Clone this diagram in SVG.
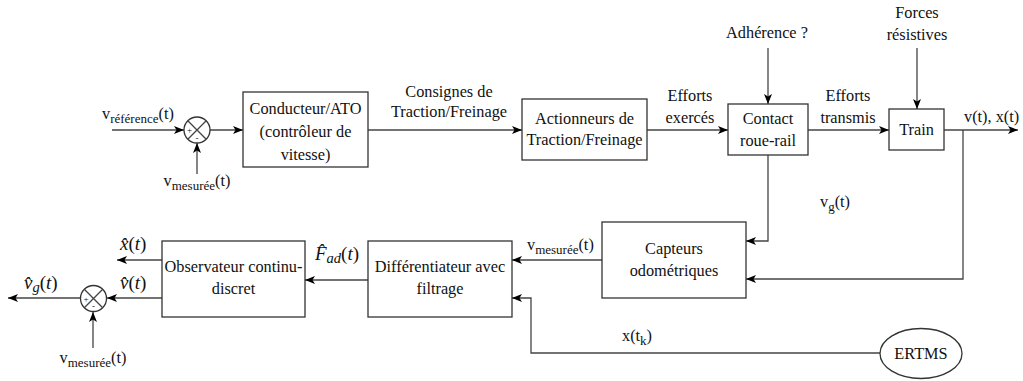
<svg xmlns="http://www.w3.org/2000/svg" width="1023" height="381" viewBox="0 0 1023 381" font-family="Liberation Serif, Times New Roman, DejaVu Serif, serif">
<style>
text{font-size:16.3px;fill:#111}
.c{text-anchor:middle}
.sub{font-size:13px}
.m{font-style:italic;font-size:19px}
.ms{font-style:italic;font-size:14.5px}
.up{font-style:normal}
.sg{font-size:9px}
.box{fill:#fff;stroke:#333;stroke-width:1.3}
.ln{fill:none;stroke:#444;stroke-width:1.3}
.ar{fill:none;stroke:#444;stroke-width:1.3;marker-end:url(#ah)}
</style>
<defs>
<marker id="ah" viewBox="0 0 10 8" refX="10" refY="4" markerWidth="10" markerHeight="8" markerUnits="userSpaceOnUse" orient="auto">
<path d="M0,0 L10,4 L0,8 L2.5,4 z" fill="#000"/>
</marker>
</defs>
<rect width="1023" height="381" fill="#fff"/>

<g id="connectors">
<path class="ar" d="M112,130 H184"/>
<path class="ar" d="M197,174 V143"/>
<path class="ar" d="M210,130 H243"/>
<path class="ar" d="M368,130 H522"/>
<path class="ar" d="M647,130 H728"/>
<path class="ar" d="M768,48 V104"/>
<path class="ar" d="M808,130 H889"/>
<path class="ar" d="M917,48 V109"/>
<path class="ar" d="M944,130 H1018"/>
<path class="ar" d="M963,130 V279 H746"/>
<path class="ar" d="M768,155 V241 H746"/>
<path class="ar" d="M602,260 H512"/>
<path class="ar" d="M880,353 H531 V298 H512"/>
<path class="ar" d="M368,280 H305"/>
<path class="ar" d="M162,260 H117"/>
<path class="ar" d="M162,298 H107"/>
<path class="ar" d="M80,298 H8"/>
<path class="ar" d="M93,348 V312"/>
</g>

<g id="sum1">
<circle class="box" cx="197" cy="130" r="13"/>
<path class="ln" d="M187.8,120.8 L206.2,139.2 M206.2,120.8 L187.8,139.2"/>
<text class="sg c" x="189.5" y="133">+</text>
<text class="sg c" x="197" y="140.5">-</text>
</g>
<g id="sum2">
<circle class="box" cx="93.5" cy="298.5" r="13"/>
<path class="ln" d="M84.3,289.3 L102.7,307.7 M102.7,289.3 L84.3,307.7"/>
<text class="sg c" x="86" y="301.5">+</text>
<text class="sg c" x="93.5" y="309">-</text>
</g>

<g id="lbl-vref"><text x="102" y="119">v<tspan class="sub" dy="4">référence</tspan><tspan dy="-4">(t)</tspan></text></g>
<g id="lbl-vmes1"><text class="c" x="197" y="186">v<tspan class="sub" dy="4">mesurée</tspan><tspan dy="-4">(t)</tspan></text></g>

<g id="conducteur">
<rect class="box" x="243" y="92" width="125" height="75"/>
<text class="c" x="305.5" y="114">Conducteur/ATO</text>
<text class="c" x="305.5" y="137">(contrôleur de</text>
<text class="c" x="305.5" y="160">vitesse)</text>
</g>
<g id="lbl-consignes">
<text class="c" x="449" y="97">Consignes de</text>
<text class="c" x="449" y="117">Traction/Freinage</text>
</g>
<g id="actionneurs">
<rect class="box" x="522" y="99" width="125" height="61"/>
<text class="c" x="584.5" y="124">Actionneurs de</text>
<text class="c" x="584.5" y="145">Traction/Freinage</text>
</g>
<g id="lbl-exerces">
<text class="c" x="690" y="101">Efforts</text>
<text class="c" x="690" y="123">exercés</text>
</g>
<g id="contact">
<rect class="box" x="728" y="104" width="80" height="51"/>
<text class="c" x="768" y="124">Contact</text>
<text class="c" x="768" y="146">roue-rail</text>
</g>
<g id="lbl-adherence"><text class="c" x="767" y="38">Adhérence ?</text></g>
<g id="lbl-transmis">
<text class="c" x="848" y="101">Efforts</text>
<text class="c" x="848" y="123">transmis</text>
</g>
<g id="lbl-forces">
<text class="c" x="917" y="18">Forces</text>
<text class="c" x="917" y="40">résistives</text>
</g>
<g id="train">
<rect class="box" x="889" y="109" width="55" height="41"/>
<text class="c" x="916.5" y="135">Train</text>
</g>
<g id="lbl-vx"><text x="964" y="122">v(t), x(t)</text></g>
<g id="lbl-vg"><text x="820" y="207">v<tspan class="sub" dy="4">g</tspan><tspan dy="-4">(t)</tspan></text></g>

<g id="capteurs">
<rect class="box" x="602" y="222" width="144" height="76"/>
<text class="c" x="674" y="254">Capteurs</text>
<text class="c" x="674" y="276">odométriques</text>
</g>
<g id="lbl-vmes2"><text x="527" y="250">v<tspan class="sub" dy="4">mesurée</tspan><tspan dy="-4">(t)</tspan></text></g>

<g id="differentiateur">
<rect class="box" x="368" y="241" width="144" height="76"/>
<text class="c" x="440" y="272">Différentiateur avec</text>
<text class="c" x="440" y="294">filtrage</text>
</g>
<g id="lbl-fad"><text class="m" x="315" y="260">F̂<tspan class="ms" dy="3">ad</tspan><tspan class="up" dy="-3">(</tspan>t<tspan class="up">)</tspan></text></g>

<g id="observateur">
<rect class="box" x="162" y="241" width="143" height="76"/>
<text class="c" x="233.5" y="272">Observateur continu-</text>
<text class="c" x="233.5" y="294">discret</text>
</g>
<g id="lbl-xhat"><text class="m" x="120" y="250">x̂<tspan class="up">(</tspan>t<tspan class="up">)</tspan></text></g>
<g id="lbl-vhat"><text class="m" x="120" y="289">v̂<tspan class="up">(</tspan>t<tspan class="up">)</tspan></text></g>
<g id="lbl-vghat"><text class="m" x="24" y="289">v̂<tspan class="ms" dy="3">g</tspan><tspan class="up" dy="-3">(</tspan>t<tspan class="up">)</tspan></text></g>
<g id="lbl-vmes3"><text class="c" x="93" y="363">v<tspan class="sub" dy="4">mesurée</tspan><tspan dy="-4">(t)</tspan></text></g>

<g id="ertms">
<ellipse class="box" cx="921" cy="353.5" rx="41" ry="25"/>
<text class="c" x="921" y="359">ERTMS</text>
</g>
<g id="lbl-xtk"><text x="622" y="341">x(t<tspan class="sub" dy="4">k</tspan><tspan dy="-4">)</tspan></text></g>
</svg>
